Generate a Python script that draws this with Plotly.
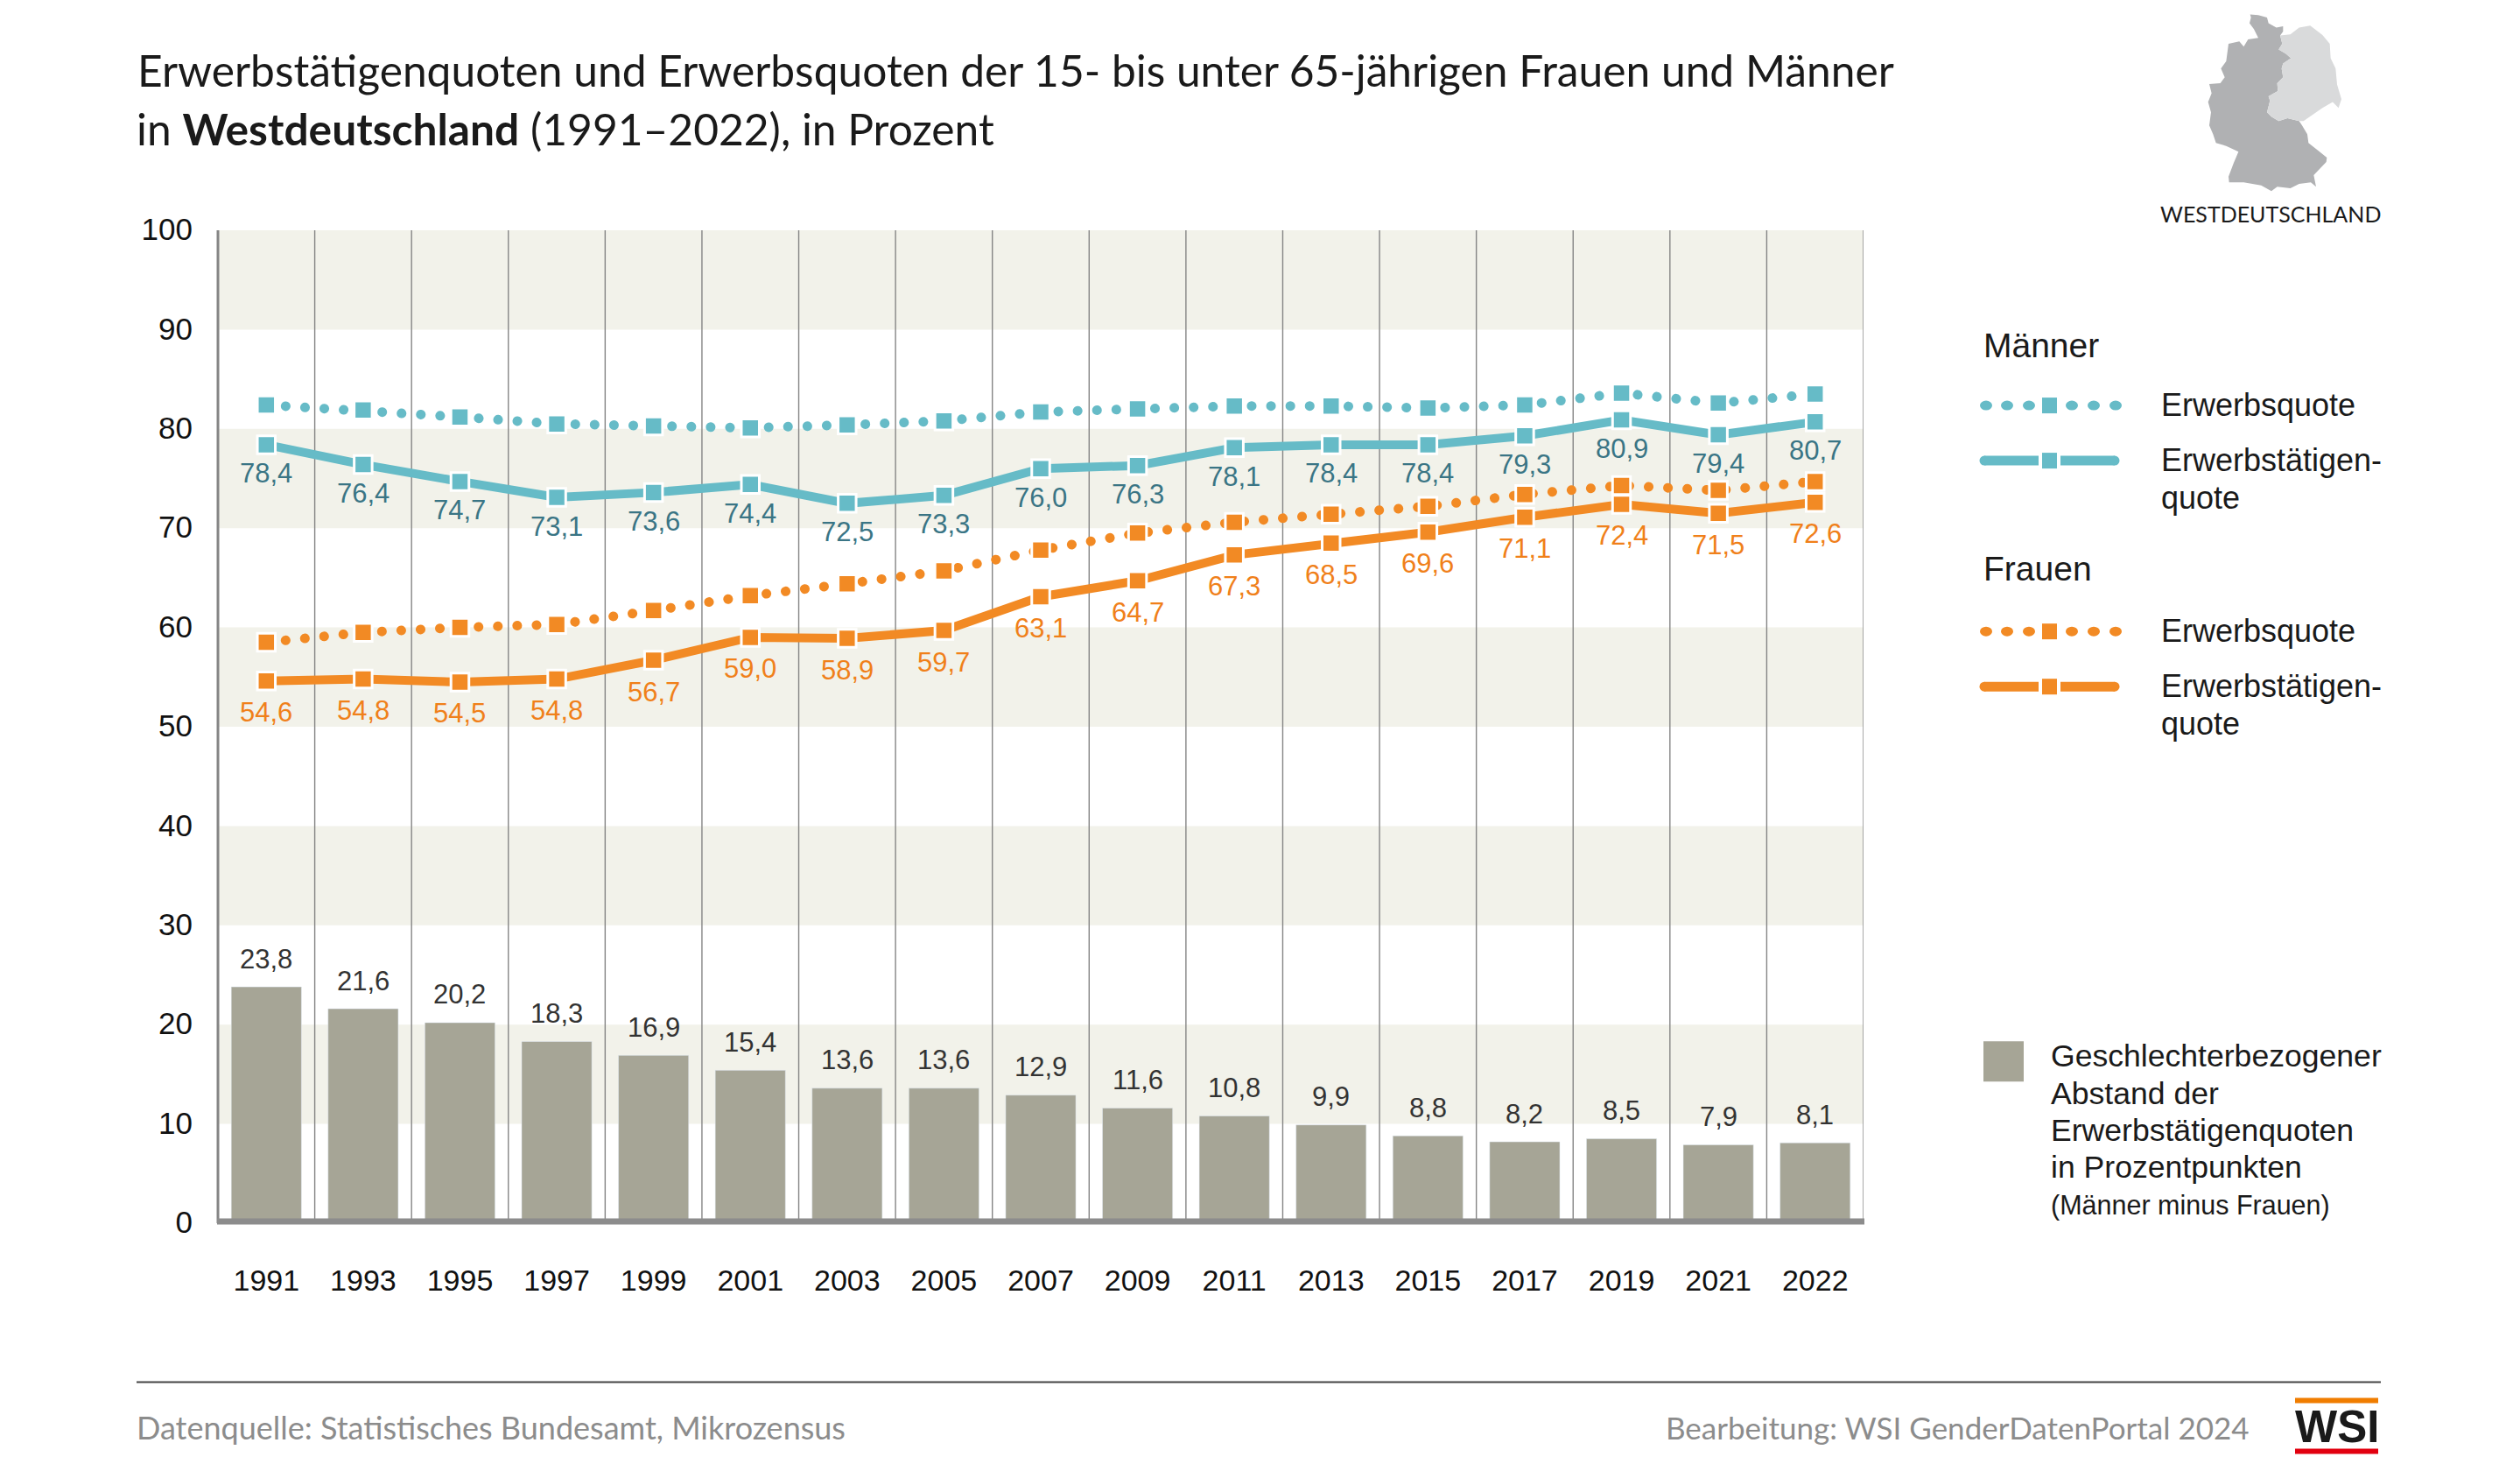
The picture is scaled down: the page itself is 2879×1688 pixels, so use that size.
import plotly.graph_objects as go

years = ["1991", "1993", "1995", "1997", "1999", "2001", "2003", "2005", "2007",
         "2009", "2011", "2013", "2015", "2017", "2019", "2021", "2022"]
maenner_quote = [82.4, 81.9, 81.2, 80.5, 80.3, 80.1, 80.4, 80.8, 81.7, 82.0, 82.3, 82.3, 82.1, 82.4, 83.6, 82.6, 83.5]
maenner_erwerb = [78.4, 76.4, 74.7, 73.1, 73.6, 74.4, 72.5, 73.3, 76.0, 76.3, 78.1, 78.4, 78.4, 79.3, 80.9, 79.4, 80.7]
frauen_quote = [58.5, 59.5, 60.0, 60.3, 61.7, 63.2, 64.4, 65.7, 67.8, 69.5, 70.6, 71.4, 72.2, 73.4, 74.3, 73.8, 74.7]
frauen_erwerb = [54.6, 54.8, 54.5, 54.8, 56.7, 59.0, 58.9, 59.7, 63.1, 64.7, 67.3, 68.5, 69.6, 71.1, 72.4, 71.5, 72.6]
abstand = [23.8, 21.6, 20.2, 18.3, 16.9, 15.4, 13.6, 13.6, 12.9, 11.6, 10.8, 9.9, 8.8, 8.2, 8.5, 7.9, 8.1]
y_ticks = [0, 10, 20, 30, 40, 50, 60, 70, 80, 90, 100]

TEAL = "#66bbc7"
TEAL_TEXT = "#3a7585"
ORANGE = "#f28a24"
BAR = "#a6a596"
BAND = "#f2f2ea"
GRID = "#858585"
NARROW = "Lato, Liberation Sans, sans-serif"
SANS = "Liberation Sans, sans-serif"

# plot area in page pixels
L, R, T, B = 249, 2129, 263, 1396.6


def px(x):
    return (x - L) / (R - L)


def py(y):
    return (B - y) / (B - T)


def comma(v):
    return f"{v:.1f}".replace(".", ",")


annotations = []
shapes = []


def label(text, x, y, size, color="#1a1a1a", font=SANS, anchor="left"):
    annotations.append(dict(text=text, x=px(x - 3), y=py(y - 2), xref="paper", yref="paper", showarrow=False,
                            xanchor=anchor, yanchor="middle", font=dict(family=font, size=size, color=color)))


def rect(x0, y0, x1, y1, color, layer="above"):
    shapes.append(dict(type="rect", xref="paper", yref="paper", x0=px(x0), x1=px(x1), y0=py(y0), y1=py(y1),
                       fillcolor=color, line_width=0, layer=layer))


def dot(cx, cy, rx, ry, color):
    shapes.append(dict(type="circle", xref="paper", yref="paper", x0=px(cx - rx), x1=px(cx + rx),
                       y0=py(cy + ry), y1=py(cy - ry), fillcolor=color, line_width=0))


def polygon(points, color):
    d = "M" + " L".join(f"{px(2480 + a / 3):.5f},{py(b / 3):.5f}" for a, b in points) + " Z"
    shapes.append(dict(type="path", xref="paper", yref="paper", path=d, fillcolor=color, line_width=0))


# background bands and vertical lines
for low in [10, 30, 50, 70, 90]:
    shapes.append(dict(type="rect", xref="paper", yref="y", x0=0, x1=1, y0=low, y1=low + 10,
                       fillcolor=BAND, line_width=0, layer="below"))
for i in range(1, len(years) + 1):
    shapes.append(dict(type="line", xref="x", yref="paper", x0=i - 0.5, x1=i - 0.5, y0=0, y1=1,
                       line=dict(color=GRID, width=1.4), layer="below"))
shapes.append(dict(type="line", xref="paper", yref="paper", x0=0, x1=0, y0=0, y1=1,
                   line=dict(color=GRID, width=3), layer="below"))
rect(L - 1, 1391, R + 1, 1398, "#8c8c8c")

fig = go.Figure()

fig.add_trace(go.Bar(x=years, y=abstand, marker_color=BAR, width=0.725, showlegend=False,
                     name="Geschlechterbezogener Abstand"))


def add_line(values, color, name, dash, width):
    fig.add_trace(go.Scatter(x=years, y=values, mode="lines+markers", name=name, showlegend=False,
                             line=dict(color=color, width=width, dash=dash),
                             marker=dict(symbol="square", size=20.5, color=color,
                                         line=dict(color="white", width=3))))


add_line(maenner_quote, TEAL, "Männer Erwerbsquote", "0.1px,22px", 11)
add_line(maenner_erwerb, TEAL, "Männer Erwerbstätigenquote", "solid", 10)
add_line(frauen_quote, ORANGE, "Frauen Erwerbsquote", "0.1px,22px", 11)
add_line(frauen_erwerb, ORANGE, "Frauen Erwerbstätigenquote", "solid", 10)

# value labels
for i, (m, f, g) in enumerate(zip(maenner_erwerb, frauen_erwerb, abstand)):
    annotations.append(dict(text=comma(m), x=i, y=m, xref="x", yref="y", showarrow=False, yshift=-33,
                            font=dict(family=SANS, size=31, color=TEAL_TEXT)))
    annotations.append(dict(text=comma(f), x=i, y=f, xref="x", yref="y", showarrow=False, yshift=-36,
                            font=dict(family=SANS, size=31, color="#f0801a")))
    annotations.append(dict(text=comma(g), x=i, y=g, xref="x", yref="y", showarrow=False, yshift=32,
                            font=dict(family=SANS, size=31, color="#333333")))

# title second line, first line is the layout title
label("in <b>Westdeutschland</b> (1991–2022), in Prozent", 157, 149, 49.7, font=NARROW)

# map
west = [(272, 50), (300, 52), (330, 60), (335, 80), (362, 95), (385, 90), (385, 108), (375, 122), (382, 150),
        (370, 170), (395, 185), (412, 200), (385, 218), (380, 235), (385, 265), (365, 285), (367, 312), (335, 330),
        (340, 345), (330, 385), (345, 400), (370, 415), (400, 405), (440, 415), (450, 430), (468, 460), (472, 490),
        (510, 520), (535, 540), (533, 555), (490, 600), (498, 640), (480, 625), (440, 630), (410, 645), (365, 640),
        (345, 655), (310, 635), (250, 625), (200, 625), (198, 605), (215, 560), (232, 520), (190, 500), (155, 490),
        (145, 460), (132, 430), (138, 385), (128, 350), (140, 320), (132, 288), (170, 285), (185, 265), (172, 235),
        (190, 210), (198, 150), (235, 142), (250, 160), (265, 135), (300, 130), (285, 100), (270, 80), (275, 60)]
east = [(375, 122), (410, 118), (440, 95), (478, 88), (520, 120), (545, 150), (548, 200), (565, 235), (570, 290),
        (585, 340), (575, 370), (555, 350), (520, 370), (455, 415), (440, 415), (400, 405), (370, 415), (345, 400),
        (330, 385), (340, 345), (335, 330), (367, 312), (365, 285), (385, 265), (380, 235), (385, 218), (412, 200),
        (395, 185), (370, 170), (382, 150)]
polygon(west, "#b0b1b3")
polygon(east, "#d9dadb")
label("WESTDEUTSCHLAND", 2597, 246, 25, font=NARROW, anchor="center")


# legend drawn by hand, the library caps legend line and marker sizes
def legend_row(y, color, dotted):
    if dotted:
        for cx in [2269, 2293, 2318, 2367, 2392, 2417]:
            dot(cx, y, 7, 5.5, color)
    else:
        dot(2267, y, 5.5, 5.5, color)
        dot(2416, y, 5.5, 5.5, color)
        rect(2267, y - 5.5, 2329, y + 5.5, color)
        rect(2354, y - 5.5, 2416, y + 5.5, color)
    rect(2333, y - 9, 2350, y + 9, color)


label("Männer", 2267, 396, 39)
legend_row(463, TEAL, True)
label("Erwerbsquote", 2470, 464, 36)
legend_row(526, TEAL, False)
label("Erwerbstätigen-", 2470, 527, 36)
label("quote", 2470, 570, 36)
label("Frauen", 2267, 651, 39)
legend_row(721, ORANGE, True)
label("Erwerbsquote", 2470, 722, 36)
legend_row(784, ORANGE, False)
label("Erwerbstätigen-", 2470, 785, 36)
label("quote", 2470, 828, 36)

rect(2266, 1189, 2312, 1235, BAR)
label("Geschlechterbezogener", 2344, 1208, 35.6)
label("Abstand der", 2344, 1251, 35.6)
label("Erwerbstätigenquoten", 2344, 1293, 35.6)
label("in Prozentpunkten", 2344, 1335, 35.6)
label("(Männer minus Frauen)", 2344, 1378, 30.5)

# footer
rect(156, 1577, 2720, 1579, "#444444")
label("Datenquelle: Statistisches Bundesamt, Mikrozensus", 157, 1632, 36, "#8c8c8c", NARROW)
label("Bearbeitung: WSI GenderDatenPortal 2024", 2575, 1632, 35, "#8c8c8c", NARROW, "right")
rect(2622, 1596, 2717, 1602, "#f07d00")
rect(2622, 1654, 2717, 1660, "#e2000f")
label("<b>WSI</b>", 2672.5, 1631, 51, "#1a1a1a", SANS, "center")

fig.update_layout(
    width=2879, height=1688,
    margin=dict(l=L, r=2879 - R, t=T, b=1688 - B, pad=0),
    paper_bgcolor="white", plot_bgcolor="white",
    showlegend=False,
    title=dict(text="Erwerbstätigenquoten und Erwerbsquoten der 15- bis unter 65-jährigen Frauen und Männer",
               x=157 / 2879, xanchor="left", y=1 - 82 / 1688, yanchor="middle",
               font=dict(family=NARROW, size=49.7, color="#1a1a1a")),
    shapes=shapes,
    annotations=annotations,
)
fig.update_xaxes(type="category", range=[-0.5, 16.5], showgrid=False, showline=False, zeroline=False,
                 ticks="", ticklabelstandoff=42, tickfont=dict(family=SANS, size=34, color="#111111"))
fig.update_yaxes(range=[0, 100], tickvals=y_ticks, showgrid=False, showline=False, zeroline=False,
                 ticks="", ticklabelstandoff=28, ticklabelshift=-1,
                 tickfont=dict(family=SANS, size=35, color="#111111"))

# round dots for the Erwerbsquote lines, no page margin
post = """
document.body.style.margin = '0';
document.querySelectorAll('.scatterlayer .js-line').forEach(function (p) {
  if ((p.style.strokeDasharray || '').indexOf('22') >= 0) { p.style.strokeLinecap = 'round'; }
});
"""
fig.write_html("out.html", post_script=post, config={"displayModeBar": False})
